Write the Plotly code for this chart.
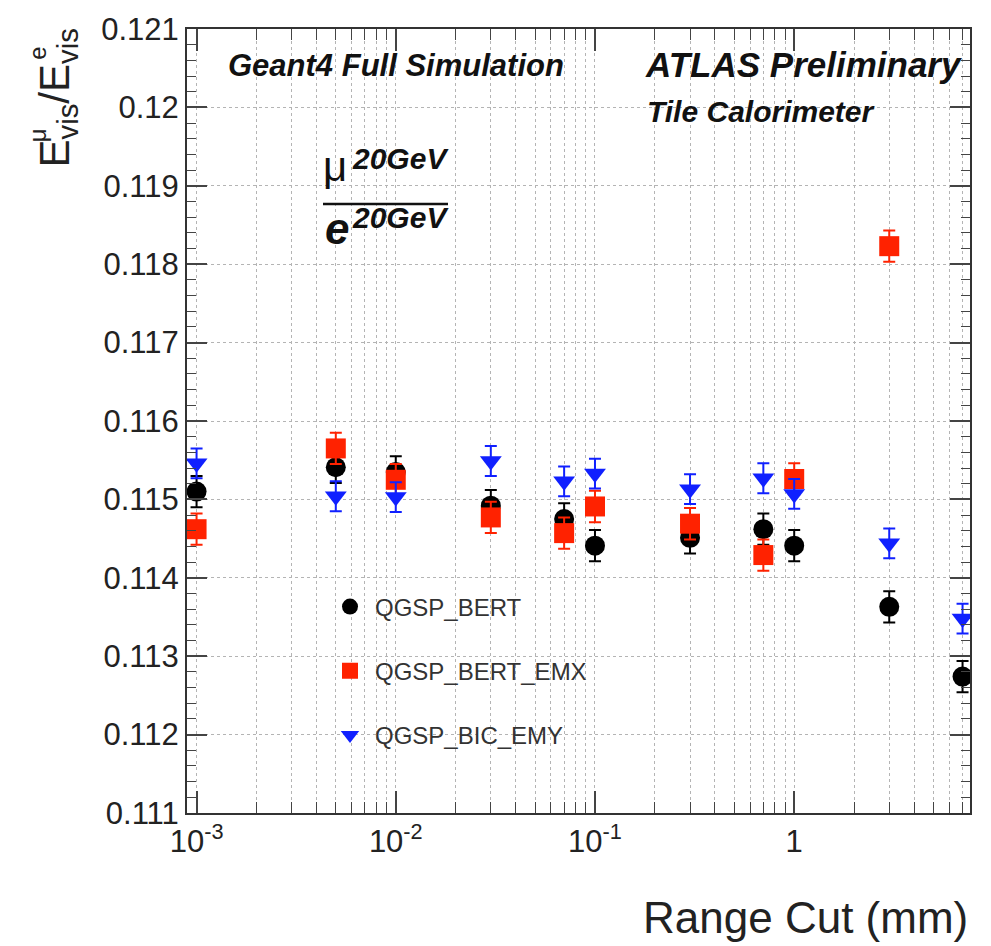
import plotly.graph_objects as go

# ---- data ----
range_cut = [0.001, 0.005, 0.01, 0.03, 0.07, 0.1, 0.3, 0.7, 1, 3, 7]
qgsp_bert = [0.11510, 0.11541, 0.11535, 0.11492, 0.11475, 0.11441, 0.11451, 0.11462, 0.11441, 0.11363, 0.11274]
qgsp_bert_err = [0.00020] * 11
range_cut_emx = [0.001, 0.005, 0.01, 0.03, 0.07, 0.1, 0.3, 0.7, 1, 3]
qgsp_bert_emx = [0.11462, 0.11565, 0.11525, 0.11477, 0.11457, 0.11491, 0.11469, 0.11429, 0.11526, 0.11823]
qgsp_bert_emx_err = [0.00020] * 10
qgsp_bic_emy = [0.11546, 0.11504, 0.11503, 0.11549, 0.11523, 0.11533, 0.11513, 0.11527, 0.11507, 0.11444, 0.11348]
qgsp_bic_emy_err = [0.00019] * 11

series_names = ["QGSP_BERT", "QGSP_BERT_EMX", "QGSP_BIC_EMY"]

x_major = [0.001, 0.01, 0.1, 1]
x_major_text = ["10<sup>-3</sup>", "10<sup>-2</sup>", "10<sup>-1</sup>", "1"]
x_minor = [m * d for d in [0.001, 0.01, 0.1, 1] for m in range(2, 10)]
y_ticks = [0.111, 0.112, 0.113, 0.114, 0.115, 0.116, 0.117, 0.118, 0.119, 0.120, 0.121]
y_ticktext = ["0.111", "0.112", "0.113", "0.114", "0.115", "0.116", "0.117", "0.118", "0.119", "0.12", "0.121"]

FONT = "Liberation Sans, Arial, Helvetica, sans-serif"
RED = "#ff2200"
BLUE = "#1020ff"

# ---- geometry helpers (pixel -> paper) ----
L, R, T, B = 187, 21, 24, 133
W, H = 991, 946
PW, PH = W - L - R, H - T - B
def xp(px):
    return (px - L) / PW
def yp(py):
    return 1 - (py - T) / PH

fig = go.Figure()

def add_series(x, y, err, name, color, symbol, size):
    fig.add_trace(go.Scatter(
        x=x, y=y, mode="markers", name=name, legendgroup=name,
        marker=dict(color=color, symbol=symbol, size=size, line=dict(width=0)),
        error_y=dict(type="data", array=err, visible=True, color=color, thickness=2, width=6),
    ))

add_series(range_cut, qgsp_bert, qgsp_bert_err, series_names[0], "black", "circle", 20)
add_series(range_cut_emx, qgsp_bert_emx, qgsp_bert_emx_err, series_names[1], RED, "square", 20)
add_series(range_cut, qgsp_bic_emy, qgsp_bic_emy_err, series_names[2], BLUE, "triangle-down", 19)

grid_col = "#b4b4b4"
fig.update_xaxes(
    type="log", range=[-3.048, 0.8825],
    tickmode="array", tickvals=x_major, ticktext=x_major_text,
    ticks="inside", ticklen=22, tickwidth=1.5, tickcolor="#444",
    showline=True, linecolor="#333", linewidth=2, mirror="allticks",
    showgrid=True, gridcolor=grid_col, griddash="dot", gridwidth=1,
    zeroline=False,
    tickfont=dict(family=FONT, size=31, color="#222"),
    minor=dict(tickmode="array", tickvals=x_minor, ticks="inside", ticklen=11,
               tickwidth=1.2, tickcolor="#444", showgrid=True, gridcolor=grid_col,
               griddash="dot", gridwidth=1),
)
fig.update_yaxes(
    range=[0.111, 0.121],
    tickmode="array", tickvals=y_ticks, ticktext=y_ticktext,
    ticks="inside", ticklen=20, tickwidth=1.5, tickcolor="#444",
    showline=True, linecolor="#333", linewidth=2, mirror="allticks",
    showgrid=True, gridcolor=grid_col, griddash="dot", gridwidth=1,
    zeroline=False,
    tickfont=dict(family=FONT, size=31, color="#222"),
    minor=dict(dtick=0.0002, ticks="inside", ticklen=9, tickwidth=1.2,
               tickcolor="#444", showgrid=False),
)

# white legend box (covers grid only)
fig.add_shape(type="rect", xref="paper", yref="paper",
              x0=xp(315), x1=xp(532), y0=yp(763), y1=yp(576),
              fillcolor="white", line=dict(width=0), layer="between")

# fraction bar
fig.add_shape(type="line", xref="paper", yref="paper",
              x0=xp(323), x1=xp(448), y0=yp(200), y1=yp(200),
              line=dict(color="#111", width=2.5))

def ann(text, x, y, size, xanchor="left", angle=0, color="#111"):
    fig.add_annotation(text=text, xref="paper", yref="paper", x=x, y=y,
                       xanchor=xanchor, yanchor="middle", showarrow=False,
                       textangle=angle, font=dict(family=FONT, size=size, color=color))

ann("<b><i>Geant4 Full Simulation</i></b>", xp(226), yp(61), 31)
ann("<b><i>ATLAS Preliminary</i></b>", xp(643), yp(60), 35)
ann("<b><i>Tile Calorimeter</i></b>", xp(645), yp(107), 30)
ann("μ", xp(321), yp(162), 42)
ann("<b><i>20GeV</i></b>", xp(350), yp(154), 30)
ann("<b><i>e</i></b>", xp(323), yp(225), 44)
ann("<b><i>20GeV</i></b>", xp(350), yp(214), 30)
ann("Range Cut (mm)", xp(970), yp(918), 44, xanchor="right", color="#222")
# y-axis title
ann("E<sub>vis</sub>/E<sub>vis</sub>", xp(58), yp(93), 42, xanchor="center", angle=-90, color="#222")
ann("μ", xp(37), yp(131), 24, xanchor="center", angle=-90, color="#222")
ann("e", xp(38), yp(49), 24, xanchor="center", angle=-90, color="#222")

fig.update_layout(
    width=W, height=H,
    margin=dict(l=L, r=R, t=T, b=B),
    paper_bgcolor="white", plot_bgcolor="white",
    showlegend=True,
    legend=dict(x=xp(325), y=yp(583), xanchor="left", yanchor="top",
                bgcolor="rgba(0,0,0,0)", borderwidth=0, itemwidth=40,
                traceorder="grouped", tracegroupgap=30,
                font=dict(family=FONT, size=24, color="#333")),
    font=dict(family=FONT),
)

fig.write_html("out.html")
